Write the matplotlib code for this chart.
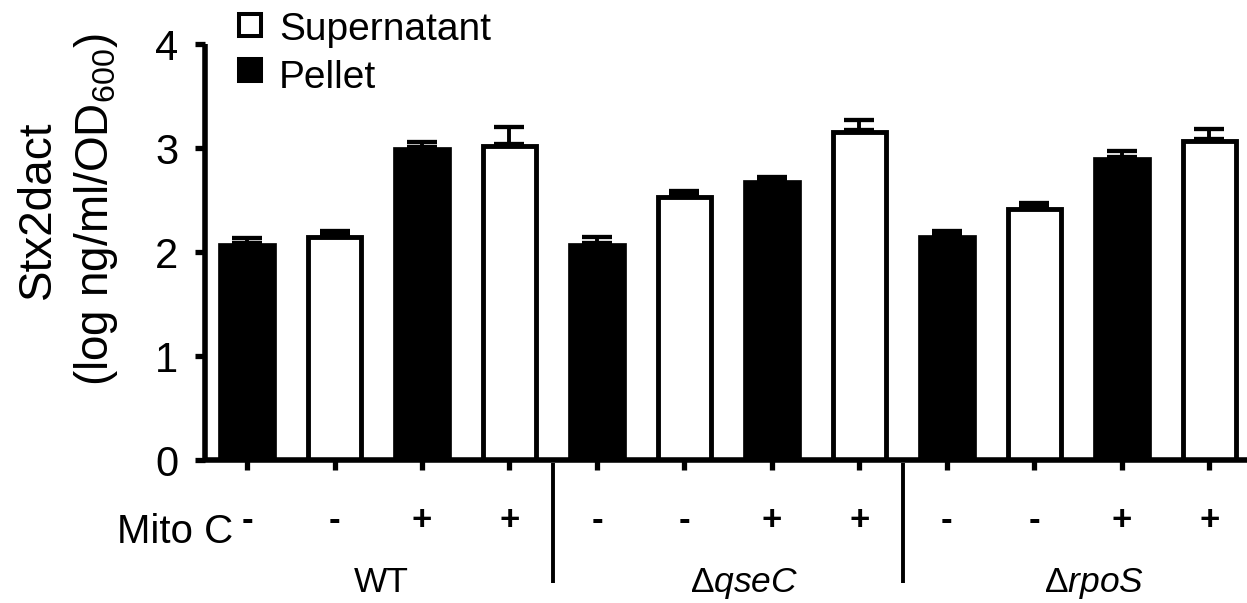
import matplotlib
matplotlib.use("Agg")
import matplotlib.pyplot as plt
from matplotlib.lines import Line2D
import matplotlib.transforms as mtransforms

plt.rcParams['font.family'] = ['Liberation Sans', 'DejaVu Sans']
plt.rcParams['mathtext.fontset'] = 'custom'
plt.rcParams['mathtext.rm'] = 'Liberation Sans'
plt.rcParams['mathtext.it'] = 'Liberation Sans:italic'

# data
groups = ['WT', 'Δ$\\mathit{qseC}$', 'Δ$\\mathit{rpoS}$']
mito = ['-', '-', '+', '+']
fractions = ['Pellet', 'Supernatant', 'Pellet', 'Supernatant']
values = [2.09, 2.14, 3.01, 3.02,
          2.09, 2.53, 2.69, 3.15,
          2.16, 2.41, 2.91, 3.07]
errors = [0.04, 0.04, 0.05, 0.16,
          0.05, 0.04, 0.03, 0.10,
          0.04, 0.04, 0.06, 0.09]

W, H = 1247, 603
fig = plt.figure(figsize=(W / 100, H / 100), dpi=100)
ax = fig.add_axes([204.5 / W, 1 - 460 / H, 1 - 204.5 / W, (460 - 44) / H])

n = len(values)
xs = list(range(n))
for i in xs:
    frac = fractions[i % 4]
    if frac == 'Pellet':
        ax.bar(i, values[i], width=0.66, color='black', edgecolor='black', linewidth=0.5, zorder=2)
        top = values[i]
    else:
        ax.bar(i, values[i], width=0.61, color='white', edgecolor='black', linewidth=3.5, zorder=2)
        top = values[i] + 0.02
    ax.errorbar(i, top, yerr=[[0], [errors[i]]], fmt='none', ecolor='black',
                elinewidth=2.8, capsize=10.5, capthick=3.1, zorder=3)

ax.set_xlim(-0.486, 11.43)
ax.set_ylim(0, 4)
ax.set_yticks([0, 1, 2, 3, 4])
ax.tick_params(axis='y', labelsize=30, width=3.8, length=7, pad=12)
ax.set_xticks(xs)
ax.set_xticklabels([])
ax.tick_params(axis='x', width=3.8, length=7.5)
for s in ['top', 'right']:
    ax.spines[s].set_visible(False)
for s in ['left', 'bottom']:
    ax.spines[s].set_linewidth(4)
    ax.spines[s].set_capstyle('butt')

fig.text(68 / W, 1 - 210 / H, 'Stx2dact\n(log ng/ml/OD$_{600}$)', rotation=90,
         ha='center', va='center', fontsize=33, linespacing=1.35, multialignment='center')

trans = mtransforms.blended_transform_factory(ax.transData, ax.transAxes)
for i in xs:
    ax.text(i, -0.168, mito[i % 4], transform=trans, ha='center', va='baseline',
            fontsize=25, fontweight='bold')
ax.text(-0.16, -0.2, 'Mito C', transform=trans, ha='right', va='baseline', fontsize=29)

for g, name in enumerate(groups):
    shift = 0.03 if g == 0 else 0.18
    ax.text(g * 4 + 1.5 + shift, -0.317, name, transform=trans, ha='center',
            va='baseline', fontsize=25.5)
    if g > 0:
        ax.plot([g * 4 - 0.5, g * 4 - 0.5], [-0.007, -0.296], transform=trans,
                color='black', linewidth=2.8, clip_on=False, solid_capstyle='butt')

# legend
legend_labels = ['Supernatant', 'Pellet']
legend_faces = ['white', 'black']
for k in range(2):
    yc = 1 - (25 + 44.5 * k) / H
    fig.add_artist(Line2D([250 / W], [yc], transform=fig.transFigure, marker='s',
                          linestyle='none', markersize=16, markerfacecolor=legend_faces[k],
                          markeredgecolor='black', markeredgewidth=2.9))
    fig.text(279 / W, 1 - (40 + 48 * k) / H, legend_labels[k], fontsize=28, va='baseline')

fig.savefig('out.png', dpi=100)
